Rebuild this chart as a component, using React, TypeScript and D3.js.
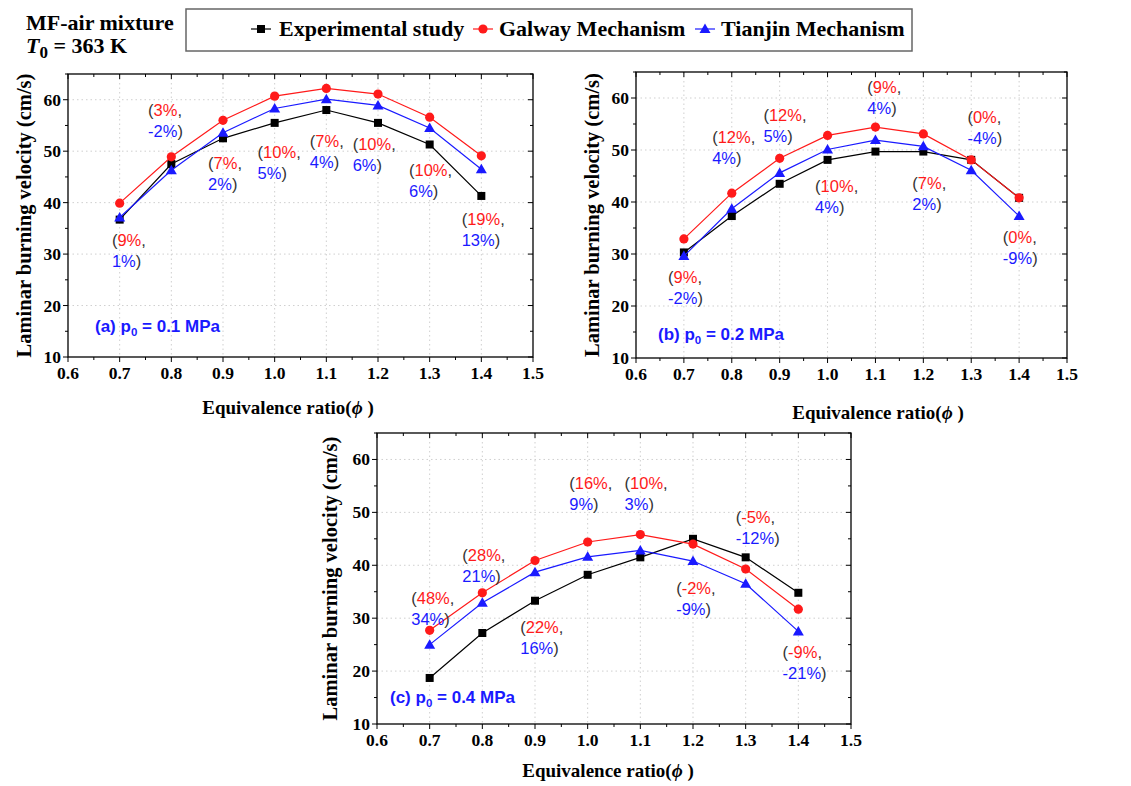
import React from 'react'
import * as d3 from 'd3'

// equivalence ratio and laminar burning velocity (cm/s)
const phi = [0.7, 0.8, 0.9, 1.0, 1.1, 1.2, 1.3, 1.4]

const expA = [36.7, 47.5, 52.5, 55.5, 58.0, 55.5, 51.3, 41.3]
const galwayA = [39.9, 48.9, 56.0, 60.7, 62.2, 61.1, 56.6, 49.1]
const tianjinA = [37.1, 46.3, 53.6, 58.3, 60.1, 58.9, 54.5, 46.5]

const expB = [30.3, 37.3, 43.5, 48.1, 49.7, 49.7, 48.1, 40.8]
const galwayB = [32.9, 41.7, 48.4, 52.8, 54.4, 53.1, 48.1, 40.8]
const tianjinB = [29.6, 38.7, 45.6, 50.1, 51.9, 50.7, 46.1, 37.3]

const expC = [18.7, 27.2, 33.3, 38.2, 41.5, 45.0, 41.5, 34.8]
const galwayC = [27.7, 34.8, 40.9, 44.4, 45.8, 44.0, 39.3, 31.7]
const tianjinC = [25.0, 32.9, 38.7, 41.6, 42.8, 40.8, 36.5, 27.5]

// relative deviation labels (Galway, Tianjin)
const devGalwayA = ['9%', '3%', '7%', '10%', '7%', '10%', '10%', '19%']
const devTianjinA = ['1%', '-2%', '2%', '5%', '4%', '6%', '6%', '13%']
const devGalwayB = ['9%', '12%', '12%', '10%', '9%', '7%', '0%', '0%']
const devTianjinB = ['-2%', '4%', '5%', '4%', '4%', '2%', '-4%', '-9%']
const devGalwayC = ['48%', '28%', '22%', '16%', '10%', '-2%', '-5%', '-9%']
const devTianjinC = ['34%', '21%', '16%', '9%', '3%', '-9%', '-12%', '-21%']

const pressures = ['0.1', '0.2', '0.4']
const xTicks = [0.6, 0.7, 0.8, 0.9, 1.0, 1.1, 1.2, 1.3, 1.4, 1.5]
const yTicks = [10, 20, 30, 40, 50, 60]

const RED = '#ff1a1a'
const BLUE = '#1a1aff'
const SERIF = '"Liberation Serif", "Times New Roman", serif'
const SANS = '"Liberation Sans", Arial, sans-serif'

// layout of each panel (pixels) and where each deviation note sits (data coords)
const panels = [
    {
        tag: '(a)', p: pressures[0], exp: expA, galway: galwayA, tianjin: tianjinA,
        devG: devGalwayA, devT: devTianjinA,
        left: 68, right: 533, top: 74, bottom: 357,
        yTitleX: 24, xTitleX: 288, xTitleY: 414, tagX: 95, tagY: 332,
        notes: [[0.685, 32.7], [0.755, 58.0], [0.871, 47.7], [0.967, 49.8], [1.068, 51.9], [1.151, 51.4], [1.260, 46.3], [1.362, 36.8]],
    },
    {
        tag: '(b)', p: pressures[1], exp: expB, galway: galwayB, tianjin: tianjinB,
        devG: devGalwayB, devT: devTianjinB,
        left: 636, right: 1067, top: 72, bottom: 358,
        yTitleX: 592, xTitleX: 878, xTitleY: 419, tagX: 658, tagY: 340,
        notes: [[0.667, 25.6], [0.759, 52.5], [0.866, 56.7], [0.974, 43.1], [1.083, 62.1], [1.177, 43.7], [1.292, 56.3], [1.366, 33.3]],
    },
    {
        tag: '(c)', p: pressures[2], exp: expC, galway: galwayC, tianjin: tianjinC,
        devG: devGalwayC, devT: devTianjinC,
        left: 377, right: 851, top: 433, bottom: 724,
        yTitleX: 330, xTitleX: 608, xTitleY: 777, tagX: 390, tagY: 703,
        notes: [[0.665, 33.8], [0.762, 41.9], [0.872, 28.3], [0.965, 55.6], [1.070, 55.6], [1.168, 35.7], [1.281, 49.1], [1.370, 23.6]],
    },
]

const Square = ({ x, y }) => <rect x={x - 4} y={y - 4} width={8} height={8} fill="#000" />
const Circle = ({ x, y }) => <circle cx={x} cy={y} r={4.6} fill={RED} />
const Triangle = ({ x, y }) => <path d={`M${x},${y - 5.5}L${x + 5.5},${y + 4}L${x - 5.5},${y + 4}Z`} fill={BLUE} />

function Panel({ cfg }) {
    const x = d3.scaleLinear().domain([0.6, 1.5]).range([cfg.left, cfg.right])
    const y = d3.scaleLinear().domain([10, 65]).range([cfg.bottom, cfg.top])
    const minorX = d3.range(12, 31).map(d => d / 20)
    const minorY = d3.range(10, 66, 5)
    const line = d3.line<number>().x((_, i) => x(phi[i])).y(d => y(d))

    const series = [
        { data: cfg.exp, color: '#000', Mark: Square },
        { data: cfg.galway, color: RED, Mark: Circle },
        { data: cfg.tianjin, color: BLUE, Mark: Triangle },
    ]

    return (
        <g>
            {/* dotted grid */}
            {xTicks.slice(1, -1).map(t => (
                <line key={'gx' + t} x1={x(t)} x2={x(t)} y1={cfg.top} y2={cfg.bottom} stroke="#cfcfcf" strokeDasharray="1.5,3" />
            ))}
            {yTicks.slice(1).map(t => (
                <line key={'gy' + t} x1={cfg.left} x2={cfg.right} y1={y(t)} y2={y(t)} stroke="#cfcfcf" strokeDasharray="1.5,3" />
            ))}

            {/* ticks: outside on left/bottom, inside on top/right */}
            {minorX.map(t => {
                const major = Math.abs(t * 10 - Math.round(t * 10)) < 1e-6
                const len = major ? 5 : 3
                return (
                    <g key={'tx' + t}>
                        <line x1={x(t)} x2={x(t)} y1={cfg.bottom} y2={cfg.bottom + len} stroke="#000" />
                        <line x1={x(t)} x2={x(t)} y1={cfg.top} y2={cfg.top + len} stroke="#000" />
                    </g>
                )
            })}
            {minorY.map(t => {
                const len = t % 10 === 0 ? 5 : 3
                return (
                    <g key={'ty' + t}>
                        <line x1={cfg.left - len} x2={cfg.left} y1={y(t)} y2={y(t)} stroke="#000" />
                        <line x1={cfg.right - len} x2={cfg.right} y1={y(t)} y2={y(t)} stroke="#000" />
                    </g>
                )
            })}
            <rect x={cfg.left} y={cfg.top} width={cfg.right - cfg.left} height={cfg.bottom - cfg.top} fill="none" stroke="#000" strokeWidth={1.3} />

            {xTicks.map(t => (
                <text key={'lx' + t} x={x(t)} y={cfg.bottom + 22} textAnchor="middle" fontFamily={SERIF} fontWeight="bold" fontSize={17.5}>
                    {t.toFixed(1)}
                </text>
            ))}
            {yTicks.map(t => (
                <text key={'ly' + t} x={cfg.left - 7} y={y(t) + 6} textAnchor="end" fontFamily={SERIF} fontWeight="bold" fontSize={17.5}>
                    {t}
                </text>
            ))}

            <text transform={`translate(${cfg.yTitleX},${(cfg.top + cfg.bottom) / 2}) rotate(-90)`} y={7} textAnchor="middle" fontFamily={SERIF} fontWeight="bold" fontSize={20.5}>
                Laminar burning velocity (cm/s)
            </text>
            <text x={cfg.xTitleX} y={cfg.xTitleY} textAnchor="middle" fontFamily={SERIF} fontWeight="bold" fontSize={19}>
                Equivalence ratio(<tspan fontStyle="italic">ϕ</tspan> )
            </text>

            {series.map((s, k) => (
                <g key={'s' + k}>
                    <path d={line(s.data) || ''} fill="none" stroke={s.color} strokeWidth={1.2} />
                    {s.data.map((v, i) => <s.Mark key={i} x={x(phi[i])} y={y(v)} />)}
                </g>
            ))}

            {cfg.notes.map(([nx, ny], i) => (
                <text key={'n' + i} fontFamily={SANS} fontSize={16.5} fill="#333">
                    <tspan x={x(nx)} y={y(ny) + 6}>(<tspan fill={RED}>{cfg.devG[i]}</tspan>,</tspan>
                    <tspan x={x(nx)} y={y(ny) + 27}><tspan fill={BLUE}>{cfg.devT[i]}</tspan>)</tspan>
                </text>
            ))}

            <text x={cfg.tagX} y={cfg.tagY} fontFamily={SANS} fontWeight="bold" fontSize={17} fill={BLUE}>
                {cfg.tag} p<tspan fontSize={11.5} dy={4}>0</tspan><tspan dy={-4}> = {cfg.p} MPa</tspan>
            </text>
        </g>
    )
}

function Legend() {
    const items = [
        { label: 'Experimental study', color: '#000', Mark: Square, sx: 261, tx: 279 },
        { label: 'Galway Mechanism', color: RED, Mark: Circle, sx: 483, tx: 499 },
        { label: 'Tianjin Mechanism', color: BLUE, Mark: Triangle, sx: 705, tx: 721 },
    ]
    return (
        <g>
            <rect x={186} y={9} width={726} height={42} fill="#fff" stroke="#666" strokeWidth={1.5} />
            {items.map(it => (
                <g key={it.label}>
                    <line x1={it.sx - 10} x2={it.sx + 10} y1={29} y2={29} stroke={it.color} strokeWidth={1.2} />
                    <it.Mark x={it.sx} y={29} />
                    <text x={it.tx} y={36} fontFamily={SERIF} fontWeight="bold" fontSize={22}>{it.label}</text>
                </g>
            ))}
        </g>
    )
}

export default function App() {
    return (
        <svg width={1131} height={786} style={{ position: 'absolute', left: 0, top: 0, background: '#fff' }}>
            <rect width={1131} height={786} fill="#fff" />
            <text x={26} y={30} fontFamily={SERIF} fontWeight="bold" fontSize={22}>MF-air mixture</text>
            <text x={26} y={53} fontFamily={SERIF} fontWeight="bold" fontSize={22}>
                <tspan fontStyle="italic">T</tspan>
                <tspan fontSize={17} dy={5}>0</tspan>
                <tspan dy={-5}> = 363 K</tspan>
            </text>
            <Legend />
            {panels.map(p => <Panel key={p.tag} cfg={p} />)}
        </svg>
    )
}
